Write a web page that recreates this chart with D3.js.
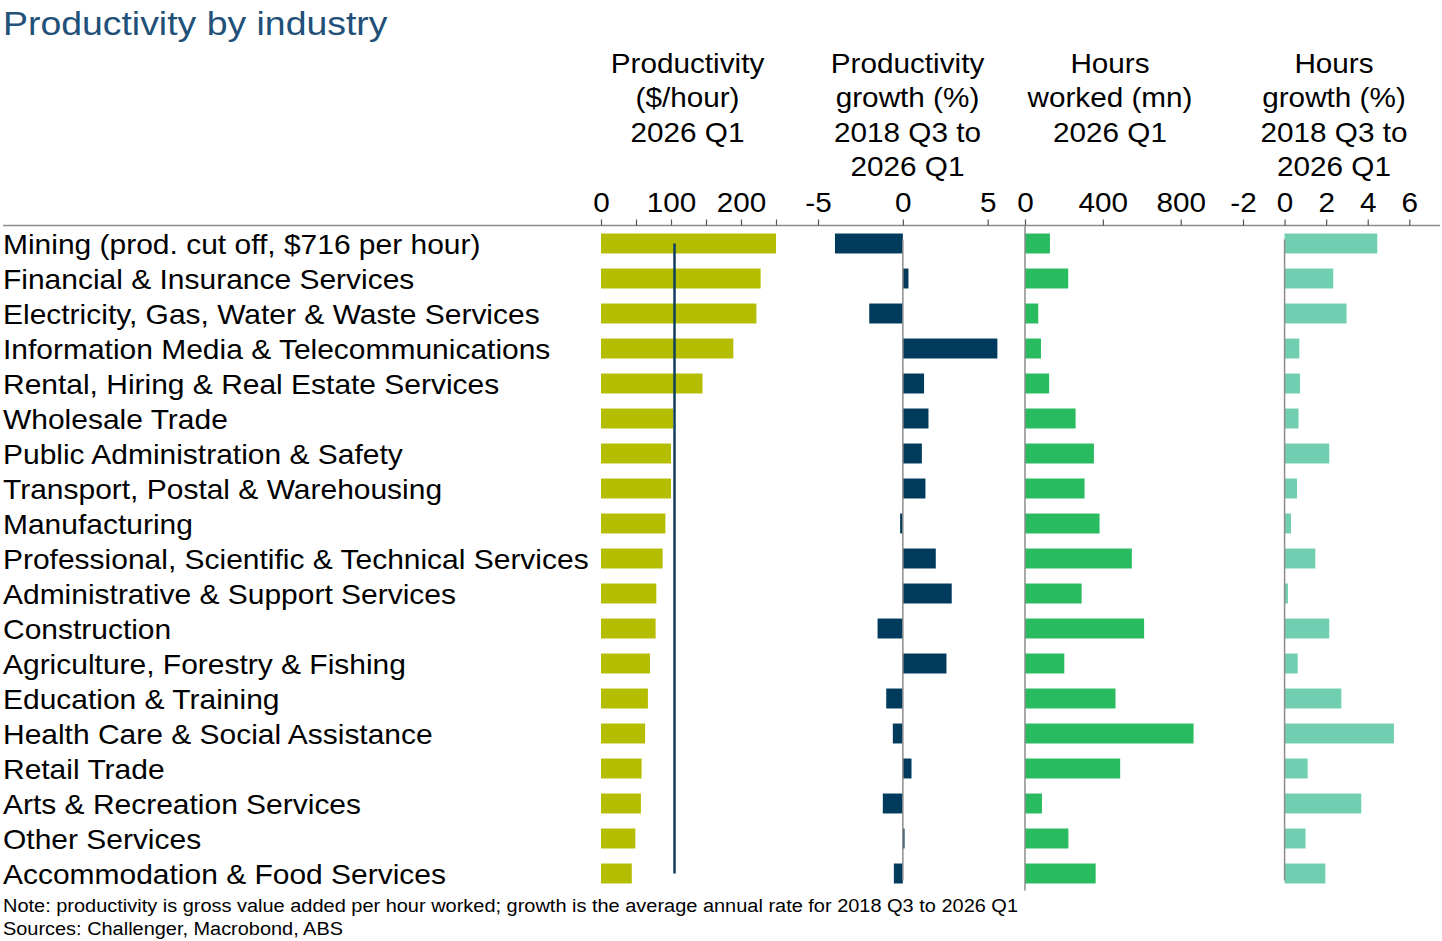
<!DOCTYPE html>
<html><head><meta charset="utf-8">
<script src="https://cdn.jsdelivr.net/npm/d3@7"></script>
<style>
body{margin:0;background:#fff}
svg{display:block}
text{font-family:"Liberation Sans",Arial,Helvetica,sans-serif;fill:#000}
</style>
</head><body>
<svg id="chart" width="1442" height="941"></svg>
<script>
// ---------- DATA ----------
const categories = [
  "Mining (prod. cut off, $716 per hour)",
  "Financial & Insurance Services",
  "Electricity, Gas, Water & Waste Services",
  "Information Media & Telecommunications",
  "Rental, Hiring & Real Estate Services",
  "Wholesale Trade",
  "Public Administration & Safety",
  "Transport, Postal & Warehousing",
  "Manufacturing",
  "Professional, Scientific & Technical Services",
  "Administrative & Support Services",
  "Construction",
  "Agriculture, Forestry & Fishing",
  "Education & Training",
  "Health Care & Social Assistance",
  "Retail Trade",
  "Arts & Recreation Services",
  "Other Services",
  "Accommodation & Food Services"
];
const productivity = [716, 228, 222, 189, 145, 103, 100, 100, 92, 88, 79, 78, 70, 67, 63, 58, 57, 49, 44];
const productivityAverage = 105;
const productivityGrowth = [-4.0, 0.33, -1.98, 5.57, 1.25, 1.51, 1.12, 1.33, -0.16, 1.94, 2.88, -1.49, 2.57, -0.98, -0.59, 0.51, -1.18, 0.1, -0.53];
const hoursWorked = [128, 222, 68, 82, 124, 260, 354, 306, 383, 549, 291, 612, 202, 465, 866, 489, 87, 223, 363];
const hoursGrowth = [4.46, 2.34, 2.98, 0.71, 0.74, 0.67, 2.15, 0.6, 0.31, 1.48, 0.16, 2.15, 0.63, 2.73, 5.26, 1.11, 3.69, 1.01, 1.96];

const productivityTicks = [0, 50, 100, 150, 200, 250];
const productivityTickLabels = [0, 100, 200];
const productivityGrowthTicks = [-5, 0, 5];
const hoursWorkedTicks = [0, 400, 800];
const hoursGrowthTicks = [-2, 0, 2, 4, 6];

const headerProductivity = ["Productivity", "($/hour)", "2026 Q1"];
const headerProductivityGrowth = ["Productivity", "growth (%)", "2018 Q3 to", "2026 Q1"];
const headerHoursWorked = ["Hours", "worked (mn)", "2026 Q1"];
const headerHoursGrowth = ["Hours", "growth (%)", "2018 Q3 to", "2026 Q1"];

const title = "Productivity by industry";
const note = "Note: productivity is gross value added per hour worked; growth is the average annual rate for 2018 Q3 to 2026 Q1";
const sources = "Sources: Challenger, Macrobond, ABS";

// ---------- LAYOUT ----------
const svg = d3.select("#chart");
const SX = 1.1;           // horizontal stretch of the reference typography
const SXL = 1.11;
const axisY = 225.5;

const y = d3.scaleBand().domain(categories).range([226, 891]).paddingInner(0.43).paddingOuter(0.215);
const yc = c => y(c) + y.bandwidth() / 2;

const x1 = d3.scaleLinear().domain([0, 250]).range([601, 776]).clamp(true);
const x2 = d3.scaleLinear().domain([-5, 5]).range([818, 987.7]);
const x3 = d3.scaleLinear().domain([0, 800]).range([1025, 1180.7]);
const x4 = d3.scaleLinear().domain([-2, 6]).range([1243, 1409.3]);

function stretchText(sel, x, yy, s) {
  return sel.attr("transform", `translate(${x},${yy}) scale(${s || SX},1)`);
}

// Title
stretchText(svg.append("text").text(title), 3, 35, 1.1)
  .attr("font-size", 34).style("fill", "#215078");

// Headers
const headers = [
  {lines: headerProductivity, cx: 687.5},
  {lines: headerProductivityGrowth, cx: 907.5},
  {lines: headerHoursWorked, cx: 1110},
  {lines: headerHoursGrowth, cx: 1334}
];
headers.forEach(h => {
  h.lines.forEach((ln, i) => {
    stretchText(svg.append("text").text(ln), h.cx, 73 + i * 34.3)
      .attr("text-anchor", "middle").attr("font-size", 27);
  });
});

// Axis line across the whole chart
svg.append("line").attr("x1", 3).attr("x2", 1440).attr("y1", axisY).attr("y2", axisY)
  .attr("stroke", "#8c8c8c").attr("stroke-width", 1.5);

function drawAxis(scale, ticks, labels) {
  const g = svg.append("g").attr("transform", `translate(0,${axisY})`)
    .call(d3.axisTop(scale).tickValues(ticks).tickSize(6).tickPadding(7.5)
      .tickFormat(d => labels.includes(d) ? String(d) : ""));
  g.select(".domain").remove();
  g.selectAll(".tick line").attr("stroke", "#555").attr("stroke-width", 1.2);
  g.selectAll(".tick text").attr("font-size", 27).attr("fill", "#000")
    .attr("font-family", '"Liberation Sans",Arial,sans-serif')
    .attr("transform", `scale(${SX},1)`);
}
drawAxis(x1, productivityTicks, productivityTickLabels);
drawAxis(x2, productivityGrowthTicks, productivityGrowthTicks);
drawAxis(x3, hoursWorkedTicks, hoursWorkedTicks);
drawAxis(x4, hoursGrowthTicks, hoursGrowthTicks);

// Category labels
svg.append("g").selectAll("text").data(categories).join("text")
  .text(d => d)
  .attr("font-size", 27)
  .attr("transform", d => `translate(3,${yc(d) + 10.5}) scale(${SXL},1)`);

// Bars helper
function bars(values, scale, color) {
  svg.append("g").selectAll("rect").data(values).join("rect")
    .attr("x", d => Math.min(scale(0), scale(d)))
    .attr("width", d => Math.abs(scale(d) - scale(0)))
    .attr("y", (d, i) => y(categories[i]))
    .attr("height", y.bandwidth())
    .attr("fill", color);
}

bars(productivity, x1, "#b5bd00");
bars(productivityGrowth, x2, "#003a5d");
bars(hoursWorked, x3, "#28bb5f");
bars(hoursGrowth, x4, "#6fcfb0");

// Zero lines
const first = yc(categories[0]) - 4, last = yc(categories[categories.length - 1]) + 7;
svg.append("line").attr("x1", x2(0)).attr("x2", x2(0)).attr("y1", first).attr("y2", last)
  .attr("stroke", "#8c8c8c").attr("stroke-width", 1.5);
svg.append("line").attr("x1", x3(0)).attr("x2", x3(0)).attr("y1", axisY).attr("y2", last + 10)
  .attr("stroke", "#8c8c8c").attr("stroke-width", 1.5);
svg.append("line").attr("x1", x4(0)).attr("x2", x4(0)).attr("y1", first).attr("y2", last)
  .attr("stroke", "#8c8c8c").attr("stroke-width", 1.5);

// Average productivity line
svg.append("line")
  .attr("x1", x1(productivityAverage)).attr("x2", x1(productivityAverage))
  .attr("y1", yc(categories[0])).attr("y2", yc(categories[categories.length - 1]))
  .attr("stroke", "#0e3f5f").attr("stroke-width", 2.5);

// Footnotes
svg.append("text").text(note).attr("x", 3).attr("y", 912).attr("font-size", 18)
  .attr("textLength", 1015).attr("lengthAdjust", "spacingAndGlyphs");
svg.append("text").text(sources).attr("x", 3).attr("y", 935).attr("font-size", 18)
  .attr("textLength", 340).attr("lengthAdjust", "spacingAndGlyphs");
</script>
</body></html>
